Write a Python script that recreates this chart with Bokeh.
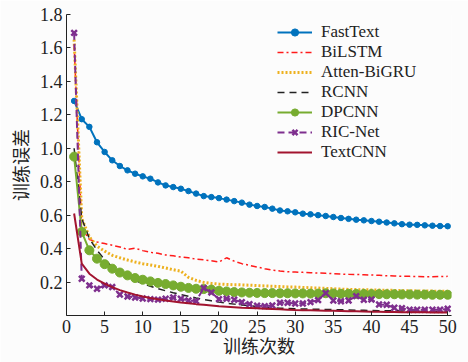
from bokeh.plotting import figure
from bokeh.models import Range1d, FixedTicker, Legend
from bokeh.embed import file_html
from bokeh.resources import INLINE

epochs = list(range(1, 51))

fasttext = [1.283, 1.174, 1.128, 1.036, 0.978, 0.928, 0.894, 0.868, 0.848, 0.832,
            0.818, 0.796, 0.778, 0.768, 0.758, 0.744, 0.729, 0.714, 0.708, 0.702,
            0.693, 0.684, 0.675, 0.663, 0.655, 0.649, 0.639, 0.628, 0.623, 0.617,
            0.609, 0.605, 0.600, 0.595, 0.589, 0.583, 0.578, 0.573, 0.569, 0.565,
            0.561, 0.556, 0.551, 0.546, 0.543, 0.542, 0.539, 0.537, 0.535, 0.534]

bilstm = [1.62, 0.52, 0.455, 0.44, 0.43, 0.42, 0.41, 0.395, 0.402, 0.388,
          0.378, 0.372, 0.362, 0.357, 0.35, 0.345, 0.337, 0.333, 0.327, 0.32,
          0.345, 0.325, 0.31, 0.30, 0.29, 0.28, 0.272, 0.266, 0.262, 0.26,
          0.258, 0.256, 0.254, 0.252, 0.25, 0.248, 0.246, 0.245, 0.244, 0.242,
          0.24, 0.238, 0.236, 0.235, 0.234, 0.233, 0.232, 0.232, 0.233, 0.234]

atten_bigru = [1.65, 0.58, 0.47, 0.415, 0.385, 0.36, 0.345, 0.332, 0.32, 0.31,
               0.302, 0.294, 0.284, 0.274, 0.265, 0.228, 0.21, 0.198, 0.192, 0.188,
               0.186, 0.184, 0.183, 0.181, 0.179, 0.177, 0.175, 0.173, 0.171, 0.17,
               0.168, 0.166, 0.164, 0.162, 0.16, 0.158, 0.156, 0.155, 0.154, 0.153,
               0.152, 0.151, 0.15, 0.149, 0.148, 0.147, 0.146, 0.146, 0.145, 0.145]

rcnn = [1.0, 0.58, 0.46, 0.39, 0.335, 0.29, 0.258, 0.232, 0.21, 0.19,
        0.175, 0.16, 0.148, 0.136, 0.125, 0.115, 0.105, 0.096, 0.088, 0.08,
        0.074, 0.068, 0.063, 0.058, 0.054, 0.05, 0.047, 0.044, 0.042, 0.04,
        0.039, 0.038, 0.037, 0.036, 0.035, 0.034, 0.033, 0.032, 0.031, 0.03,
        0.029, 0.029, 0.028, 0.027, 0.027, 0.026, 0.025, 0.025, 0.024, 0.024]

dpcnn = [0.95, 0.5, 0.39, 0.34, 0.307, 0.28, 0.257, 0.24, 0.224, 0.214,
         0.204, 0.195, 0.188, 0.18, 0.172, 0.165, 0.16, 0.158, 0.155, 0.148,
         0.144, 0.14, 0.138, 0.136, 0.135, 0.134, 0.134, 0.133, 0.133, 0.132,
         0.132, 0.131, 0.131, 0.133, 0.132, 0.13, 0.13, 0.129, 0.129, 0.128,
         0.128, 0.127, 0.127, 0.126, 0.126, 0.125, 0.125, 0.124, 0.124, 0.124]

ric_net = [1.69, 0.22, 0.18, 0.16, 0.18, 0.17, 0.125, 0.114, 0.108, 0.102,
           0.098, 0.095, 0.1, 0.108, 0.1, 0.09, 0.086, 0.164, 0.138, 0.098,
           0.1, 0.094, 0.08, 0.068, 0.058, 0.056, 0.06, 0.076, 0.076, 0.072,
           0.072, 0.08, 0.092, 0.134, 0.09, 0.085, 0.09, 0.116, 0.094, 0.096,
           0.066, 0.064, 0.046, 0.044, 0.034, 0.034, 0.034, 0.034, 0.034, 0.04]

textcnn = [0.61, 0.31, 0.25, 0.215, 0.19, 0.17, 0.152, 0.138, 0.125, 0.114,
           0.105, 0.097, 0.09, 0.084, 0.078, 0.073, 0.068, 0.064, 0.06, 0.056,
           0.053, 0.05, 0.047, 0.045, 0.043, 0.041, 0.039, 0.037, 0.035, 0.033,
           0.032, 0.031, 0.030, 0.029, 0.028, 0.027, 0.026, 0.025, 0.024, 0.023,
           0.022, 0.021, 0.021, 0.02, 0.02, 0.019, 0.019, 0.018, 0.018, 0.018]

x_ticks = [0, 5, 10, 15, 20, 25, 30, 35, 40, 45, 50]
y_ticks = [0.2, 0.4, 0.6, 0.8, 1.0, 1.2, 1.4, 1.6, 1.8]
x_title = "训练次数"
y_title = "训练误差"

BG = "#fcfcfc"
SERIF = "Liberation Serif"
CJK = "Noto Sans CJK SC"

p = figure(width=468, height=362, output_backend="svg", toolbar_location=None,
           x_range=Range1d(0, 50.5), y_range=Range1d(0, 1.8),
           min_border_left=66, min_border_right=17, min_border_top=14,
           min_border_bottom=47)
p.background_fill_color = BG
p.border_fill_color = BG
p.outline_line_color = None
p.grid.visible = False

for ax in (p.xaxis[0], p.yaxis[0]):
    ax.axis_line_color = "#222222"
    ax.major_tick_line_color = "#222222"
    ax.major_tick_in = 4
    ax.major_tick_out = 0
    ax.minor_tick_line_color = None
    ax.major_label_text_font = SERIF
    ax.major_label_text_font_size = "18px"
    ax.major_label_text_color = "#222222"
    ax.axis_label_text_font = CJK
    ax.axis_label_text_font_size = "18px"
    ax.axis_label_text_font_style = "normal"
    ax.axis_label_text_color = "#222222"

p.xaxis.ticker = FixedTicker(ticks=x_ticks)
p.yaxis.ticker = FixedTicker(ticks=y_ticks)
p.yaxis.major_label_overrides = {v: f"{v:.1f}" for v in y_ticks}
p.xaxis.axis_label = x_title
p.yaxis.axis_label = y_title
p.xaxis.major_label_standoff = 4
p.yaxis.major_label_standoff = 4
p.xaxis.axis_label_standoff = -4
p.yaxis.axis_label_standoff = 4

items = []

r1 = p.line(epochs, fasttext, line_color="#0072BD", line_width=2)
s1 = p.scatter(epochs, fasttext, marker="circle", size=5.5, fill_color="#0072BD",
               line_color="#0072BD")
items.append(("FastText", [r1, s1]))

r2 = p.line(epochs, bilstm, line_color="#FF1A1A", line_width=1.5,
            line_dash="6 3 2 3")
items.append(("BiLSTM", [r2]))

r3 = p.line(epochs, atten_bigru, line_color="#EDB120", line_width=3,
            line_dash="2 2")
items.append(("Atten-BiGRU", [r3]))

r4 = p.line(epochs, rcnn, line_color="#222222", line_width=1.5, line_dash="7 5")
items.append(("RCNN", [r4]))

r5 = p.line(epochs, dpcnn, line_color="#77AC30", line_width=2)
s5 = p.scatter(epochs, dpcnn, marker="circle", size=9, fill_color="#77AC30",
               line_color="#77AC30")
items.append(("DPCNN", [r5, s5]))

r6 = p.line(epochs, ric_net, line_color="#7E2F8E", line_width=2, line_dash="7 4")
s6 = p.scatter(epochs, ric_net, marker="x", size=8, line_color="#7E2F8E",
               line_width=2.5)
items.append(("RIC-Net", [r6, s6]))

r7 = p.line(epochs, textcnn, line_color="#A2142F", line_width=2)
items.append(("TextCNN", [r7]))

legend = Legend(items=items, location=(211, 153), orientation="vertical")
legend.background_fill_alpha = 0
legend.border_line_color = None
legend.padding = 0
legend.margin = 0
legend.spacing = 0
legend.glyph_width = 35
legend.glyph_height = 18
legend.label_height = 18
legend.label_standoff = 9
legend.label_text_font = SERIF
legend.label_text_font_size = "17px"
legend.label_text_color = "#222222"
p.add_layout(legend, "center")

open("out.html", "w").write(file_html(p, INLINE))
